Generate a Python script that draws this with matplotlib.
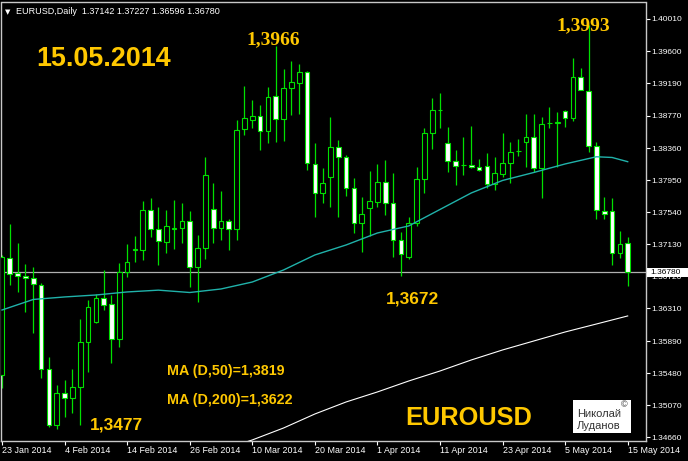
import matplotlib
matplotlib.use("Agg")
import matplotlib.pyplot as plt
from matplotlib.patches import Rectangle

# ---------------- data ----------------
open_ = [1.35457, 1.36950, 1.36766, 1.36723, 1.36694, 1.36608, 1.35530, 1.34817, 1.35223, 1.35159,
         1.35300, 1.35883, 1.36139, 1.36438, 1.36365, 1.35913, 1.36779, 1.37050, 1.37056, 1.37567,
         1.37320, 1.37162, 1.37328, 1.37333, 1.37430, 1.36843, 1.37077, 1.37580, 1.37333, 1.37420,
         1.37321, 1.38599, 1.38719, 1.38770, 1.38578, 1.39025, 1.38727, 1.39124, 1.39195, 1.39336,
         1.38155, 1.37781, 1.37985, 1.38369, 1.38249, 1.37845, 1.37397, 1.37589, 1.37673, 1.37921,
         1.37653, 1.37184, 1.36963, 1.37397, 1.37960, 1.38548, 1.38842, 1.38420, 1.38198, 1.38143,
         1.38143, 1.38121, 1.38130, 1.37900, 1.38023, 1.38164, 1.38322, 1.38441, 1.38497, 1.38108,
         1.38676, 1.38684, 1.38833, 1.38748, 1.39272, 1.39093, 1.38386, 1.37558, 1.37558, 1.37013,
         1.37142]
high_ = [1.36990, 1.37388, 1.37149, 1.36873, 1.36842, 1.36630, 1.35692, 1.35329, 1.35393, 1.35534,
         1.36169, 1.36416, 1.36493, 1.36800, 1.36480, 1.36893, 1.37132, 1.37235, 1.37686, 1.37717,
         1.37610, 1.37567, 1.37695, 1.37661, 1.37558, 1.37248, 1.38241, 1.37917, 1.37814, 1.37456,
         1.38718, 1.39153, 1.38974, 1.38910, 1.39144, 1.39660, 1.39367, 1.39473, 1.39431, 1.39340,
         1.38428, 1.38101, 1.38753, 1.38463, 1.38271, 1.37973, 1.37730, 1.38066, 1.38156, 1.38207,
         1.38044, 1.37290, 1.37475, 1.38113, 1.38612, 1.38996, 1.39060, 1.38625, 1.38335, 1.38497,
         1.38642, 1.38216, 1.38300, 1.38241, 1.38548, 1.38433, 1.38475, 1.38791, 1.38791, 1.38761,
         1.38889, 1.38817, 1.38840, 1.39515, 1.39379, 1.39930, 1.38441, 1.37737, 1.37717, 1.37299,
         1.37227]
low_ = [1.35287, 1.36608, 1.36523, 1.36267, 1.35998, 1.35415, 1.34790, 1.34770, 1.34924, 1.34967,
        1.34817, 1.35499, 1.36120, 1.36288, 1.35607, 1.35819, 1.36714, 1.36906, 1.36928, 1.37218,
        1.36864, 1.37014, 1.37065, 1.37141, 1.36587, 1.36394, 1.36937, 1.37150, 1.37184, 1.37056,
        1.37184, 1.38527, 1.38612, 1.38335, 1.38420, 1.38441, 1.38454, 1.38782, 1.38795, 1.38079,
        1.37482, 1.37653, 1.37602, 1.37482, 1.37746, 1.37270, 1.37026, 1.37235, 1.37600, 1.37503,
        1.36970, 1.36720, 1.36937, 1.37367, 1.37781, 1.38344, 1.38612, 1.38057, 1.37887, 1.38015,
        1.38100, 1.38070, 1.37845, 1.37823, 1.37993, 1.37909, 1.38262, 1.38121, 1.38050, 1.37725,
        1.38620, 1.38121, 1.38633, 1.38706, 1.39102, 1.38313, 1.37452, 1.37452, 1.36864, 1.36950,
        1.36596]
close_ = [1.36962, 1.36749, 1.36724, 1.36694, 1.36621, 1.35534, 1.34817, 1.35231, 1.35159, 1.35307,
          1.35883, 1.36332, 1.36438, 1.36352, 1.35913, 1.36779, 1.36906, 1.37065, 1.37567, 1.37324,
          1.37175, 1.37367, 1.37332, 1.37430, 1.36843, 1.37077, 1.38015, 1.37333, 1.37420, 1.37321,
          1.38591, 1.38748, 1.38770, 1.38578, 1.39016, 1.38727, 1.39131, 1.39200, 1.39336, 1.38164,
          1.37781, 1.37916, 1.38369, 1.38241, 1.37845, 1.37397, 1.37512, 1.37683, 1.37929, 1.37661,
          1.37184, 1.37005, 1.37406, 1.37960, 1.38548, 1.38846, 1.38846, 1.38198, 1.38130, 1.38140,
          1.38113, 1.38079, 1.37900, 1.38037, 1.38164, 1.38313, 1.38318, 1.38497, 1.38108, 1.38663,
          1.38680, 1.38688, 1.38748, 1.39272, 1.39102, 1.38386, 1.37567, 1.37512, 1.37021, 1.37132,
          1.36780]

ma50_bars = [0, 4, 8, 12, 16, 20, 24, 28, 32, 36, 40, 44, 48, 52, 56, 60, 64, 68, 72, 76, 78, 80]
ma50_vals = [1.36288, 1.36423, 1.36455, 1.36480, 1.36519, 1.36542, 1.36512, 1.36557, 1.36646, 1.36800,
             1.36992, 1.37120, 1.37273, 1.37363, 1.37574, 1.37785, 1.37945, 1.38047, 1.38156, 1.38248,
             1.38239, 1.38185]

ma200_bars = [30, 32, 36, 40, 44, 48, 52, 56, 60, 64, 68, 72, 76, 80]
ma200_vals = [1.34560, 1.34626, 1.34779, 1.34958, 1.35112, 1.35240, 1.35380, 1.35508, 1.35649, 1.35777,
              1.35892, 1.36007, 1.36109, 1.36212]

date_labels = ["23 Jan 2014", "4 Feb 2014", "14 Feb 2014", "26 Feb 2014", "10 Mar 2014", "20 Mar 2014",
               "1 Apr 2014", "11 Apr 2014", "23 Apr 2014", "5 May 2014", "15 May 2014"]
date_bars = [0, 8, 16, 24, 32, 40, 48, 56, 64, 72, 80]

price_ticks = [1.40010, 1.39600, 1.39190, 1.38770, 1.38360, 1.37950, 1.37540, 1.37130, 1.36720,
               1.36310, 1.35890, 1.35480, 1.35070, 1.34660]
last_price = 1.36780
header_text = "EURUSD,Daily  1.37142 1.37227 1.36596 1.36780"

# ---------------- figure ----------------
W, H = 688, 461
plt.rcParams['font.family'] = ['Liberation Sans', 'DejaVu Sans']

fig = plt.figure(figsize=(W / 100, H / 100), dpi=100, facecolor='black')
ax = fig.add_axes([1 / W, (H - 440.5) / H, 645 / W, 438 / H])
ax.set_facecolor('black')
ax.set_xlim(-0.128, 82.34)
ax.set_ylim(1.34619, 1.40221)

LIME = '#00e000'
n = len(open_)
xs = list(range(n))
bull = [c >= o for o, c in zip(open_, close_)]

# wicks
ax.vlines(xs, low_, high_, color=LIME, linewidth=0.9, zorder=2)
# bodies
heights = [c - o for o, c in zip(open_, close_)]
fills = ['black' if b else 'white' for b in bull]
ax.bar(xs, heights, bottom=open_, width=0.6, color=fills, edgecolor=LIME,
       linewidth=0.8, zorder=3)

# current price line
ax.axhline(last_price, color='#b0b0b0', linewidth=0.9, zorder=1.5)

# moving averages
ax.plot(ma50_bars, ma50_vals, color='#20b2aa', linewidth=1.0, zorder=4)
ax.plot(ma200_bars, ma200_vals, color='white', linewidth=0.8, zorder=4)

for s in ax.spines.values():
    s.set_color('#c8c8c8')
    s.set_linewidth(1.0)

ax.yaxis.tick_right()
ax.set_yticks(price_ticks)
ax.set_yticklabels([f"{p:.5f}" for p in price_ticks])
ax.tick_params(axis='y', direction='out', length=3, width=0.8, colors='white',
               labelsize=6.0, pad=1.2)
ax.set_xticks(date_bars)
ax.set_xticklabels(date_labels, ha='left')
ax.tick_params(axis='x', direction='out', length=3, width=0.8, colors='white',
               labelsize=6.4, pad=1.0)

# current price box
fig.patches.append(Rectangle((647.3 / W, 1 - 276.5 / H), 41 / W, 8.5 / H,
                             transform=fig.transFigure, facecolor='white',
                             edgecolor='none', zorder=5))
fig.text(650.7 / W, 1 - 272.2 / H, f"{last_price:.5f}", color='black', fontsize=6.0,
         va='center', ha='left', zorder=6)

# header
fig.text(5 / W, 1 - 12 / H, "\u25BC", color='white', fontsize=5, va='center', ha='left',
         family='DejaVu Sans')
fig.text(16 / W, 1 - 12 / H, header_text, color='white', fontsize=6.5, va='center', ha='left')

GOLD = '#ffc800'


def ptxt(x, y, s, **kw):
    fig.text(x / W, 1 - y / H, s, **kw)


ptxt(36, 66, "15.05.2014", color=GOLD, fontsize=19.4, fontweight='bold', va='baseline')
ptxt(246, 44.3, "1,3966", color=GOLD, fontsize=14, fontweight='bold', va='baseline',
     family=['Liberation Serif', 'DejaVu Serif'])
ptxt(556, 30, "1,3993", color=GOLD, fontsize=14, fontweight='bold', va='baseline',
     family=['Liberation Serif', 'DejaVu Serif'])
ptxt(90, 429.3, "1,3477", color=GOLD, fontsize=12.5, fontweight='bold', va='baseline')
ptxt(386, 303, "1,3672", color=GOLD, fontsize=12.5, fontweight='bold', va='baseline')
ptxt(166.7, 375, "MA (D,50)=1,3819", color=GOLD, fontsize=10.3, fontweight='bold', va='baseline')
ptxt(166.7, 404, "MA (D,200)=1,3622", color=GOLD, fontsize=10.3, fontweight='bold', va='baseline')
ptxt(405, 425, "EUROUSD", color=GOLD, fontsize=18.3, fontweight='bold', va='baseline')

# signature box
fig.patches.append(Rectangle((573 / W, 1 - 433 / H), 58 / W, 33 / H,
                             transform=fig.transFigure, facecolor='white',
                             edgecolor='none', zorder=5))
ptxt(576.7, 416.5, "Николай", color='#333333', fontsize=8, va='baseline', zorder=6)
ptxt(576.7, 428.5, "Луданов", color='#333333', fontsize=8, va='baseline', zorder=6)
ptxt(621, 405, "\u00A9", color='#333333', fontsize=6.5, va='center', zorder=6)

fig.savefig("out.png", dpi=100, facecolor='black')
